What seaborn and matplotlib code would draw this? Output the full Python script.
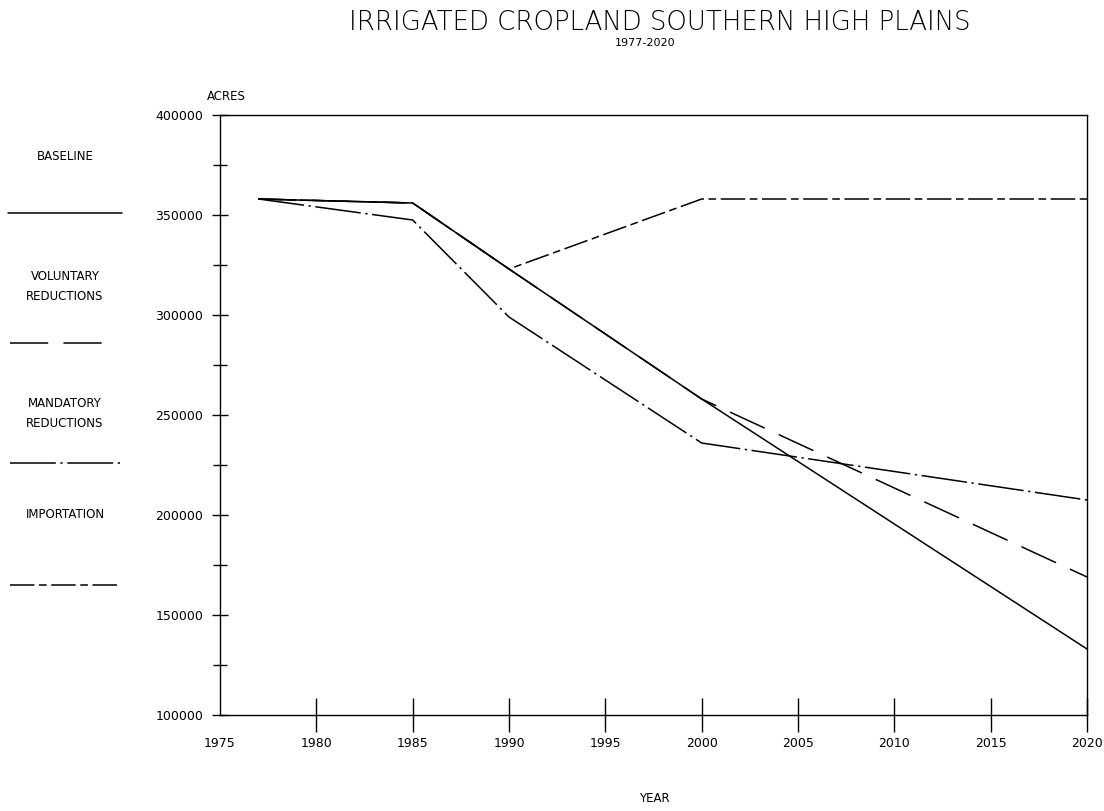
import matplotlib
matplotlib.use("Agg")
import matplotlib.pyplot as plt
from matplotlib.lines import Line2D
from matplotlib.ticker import MultipleLocator
import seaborn as sns
import pandas as pd

# scenario data (acres)
baseline_years = [1977, 1985, 1990, 2000, 2020]
baseline_acres = [358000, 356000, 323000, 258000, 133000]

voluntary_years = [1977, 1985, 1990, 2000, 2020]
voluntary_acres = [358000, 356000, 323000, 258000, 169000]

mandatory_years = [1977, 1985, 1990, 2000, 2020]
mandatory_acres = [358000, 347500, 299000, 236000, 207500]

importation_years = [1977, 1985, 1990, 2000, 2020]
importation_acres = [358000, 356000, 323000, 358000, 358000]

scenario_names = ["BASELINE", "VOLUNTARY\nREDUCTIONS", "MANDATORY\nREDUCTIONS", "IMPORTATION"]
x_ticks = [1975, 1980, 1985, 1990, 1995, 2000, 2005, 2010, 2015, 2020]
y_ticks = [100000, 150000, 200000, 250000, 300000, 350000, 400000]


def build_frame() -> pd.DataFrame:
    """
    long-form table of all scenarios
    """
    rows = []
    series = [
        (baseline_years, baseline_acres),
        (voluntary_years, voluntary_acres),
        (mandatory_years, mandatory_acres),
        (importation_years, importation_acres),
    ]
    for name, (years, acres) in zip(scenario_names, series):
        for y, a in zip(years, acres):
            rows.append({"year": y, "acres": a, "scenario": name})
    return pd.DataFrame(rows)


def main() -> None:
    sns.set_theme(style="white")
    plt.rcParams["font.family"] = ["Liberation Sans Narrow", "DejaVu Sans"]
    plt.rcParams["text.color"] = "black"
    plt.rcParams["xtick.color"] = "black"
    plt.rcParams["ytick.color"] = "black"

    dashes = {
        "BASELINE": "",
        "VOLUNTARY\nREDUCTIONS": (25, 10),
        "MANDATORY\nREDUCTIONS": (30, 3, 1.5, 3),
        "IMPORTATION": (16, 3, 5, 3),
    }

    fig = plt.figure(figsize=(11.04, 8.11), dpi=100)
    ax = fig.add_axes([220 / 1104, 1 - 715 / 811, 867 / 1104, 600 / 811])

    df = build_frame()
    sns.lineplot(
        data=df, x="year", y="acres", style="scenario",
        style_order=scenario_names, dashes=dashes, color="black",
        linewidth=1.1, legend=False, ax=ax
    )

    ax.set_xlim(1975, 2020)
    ax.set_ylim(100000, 400000)
    ax.set_xticks(x_ticks)
    ax.set_xticklabels([str(t) for t in x_ticks])
    ax.set_yticks(y_ticks)
    ax.set_yticklabels([str(t) for t in y_ticks])
    ax.yaxis.set_minor_locator(MultipleLocator(25000))
    ax.set_xlabel("")
    ax.set_ylabel("")

    for spine in ax.spines.values():
        spine.set_color("black")
        spine.set_linewidth(1.0)

    ax.tick_params(axis="x", direction="inout", length=24, width=1,
                   colors="black", labelsize=9, pad=4, bottom=True)
    ax.tick_params(axis="y", which="major", direction="inout", length=12,
                   width=1, colors="black", labelsize=9, pad=6, left=True)
    ax.tick_params(axis="y", which="minor", direction="inout", length=10,
                   width=1, colors="black", left=True)
    ax.xaxis.get_major_ticks()[0].tick1line.set_visible(False)

    fig.text(660 / 1104, 1 - 23 / 811, "IRRIGATED CROPLAND SOUTHERN HIGH PLAINS",
             ha="center", va="center", fontsize=18.7, fontweight="light",
             family=["DejaVu Sans"], color="black")
    fig.text(645 / 1104, 1 - 43 / 811, "1977-2020", ha="center", va="center",
             fontsize=8)
    fig.text(226 / 1104, 1 - 97 / 811, "ACRES", ha="center", va="center",
             fontsize=8.5)
    fig.text(654 / 1104, 1 - 799 / 811, "YEAR", ha="center", va="center",
             fontsize=8.5)

    # hand-placed legend down the left side
    label_y = [157, 287, 414, 515]
    line_y = [213, 343, 463, 585]
    line_x = [(8, 122), (10, 106), (10, 122), (10, 120)]
    for name, ty, ly, (x0, x1) in zip(scenario_names, label_y, line_y, line_x):
        fig.text(65 / 1104, 1 - ty / 811, name, ha="center", va="center",
                 fontsize=8.5, linespacing=1.7)
        key = Line2D([x0 / 1104, x1 / 1104], [1 - ly / 811, 1 - ly / 811],
                     transform=fig.transFigure, color="black", linewidth=1.1)
        if dashes[name]:
            key.set_dashes(dashes[name])
        fig.add_artist(key)

    fig.savefig("out.png", dpi=100, facecolor="white")


if __name__ == "__main__":
    main()
